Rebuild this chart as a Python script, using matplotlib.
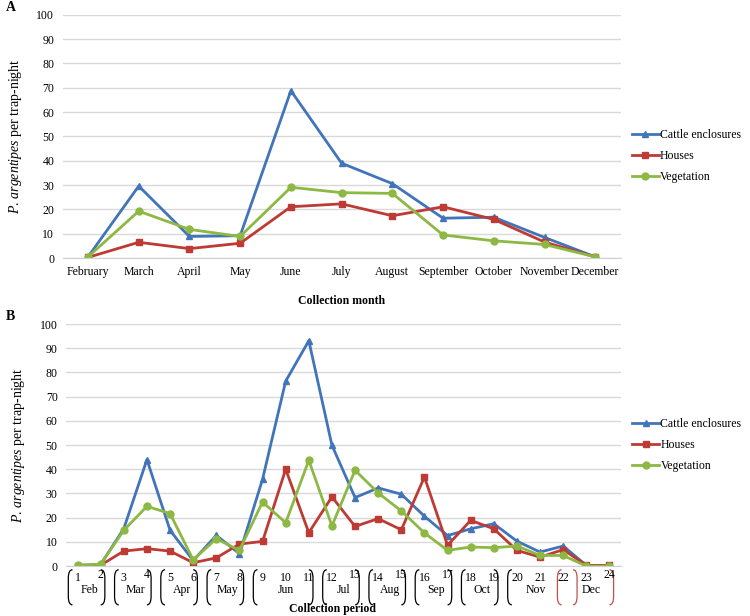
import numpy as np
import matplotlib.pyplot as plt
from matplotlib.path import Path
from matplotlib.patches import PathPatch
import matplotlib.transforms as mtransforms

plt.rcParams['font.family'] = ['Liberation Serif', 'DejaVu Serif']
plt.rcParams['mathtext.fontset'] = 'custom'
plt.rcParams['mathtext.rm'] = 'Liberation Serif'
plt.rcParams['mathtext.it'] = 'Liberation Serif:italic'

# panel A: monthly means
months = ['February', 'March', 'April', 'May', 'June', 'July', 'August',
          'September', 'October', 'November', 'December']
cattle_m = [0.5, 29.6, 8.9, 9.2, 68.8, 39.0, 30.6, 16.4, 16.8, 8.5, 0.5]
houses_m = [0.3, 6.5, 3.9, 6.1, 21.1, 22.3, 17.4, 21.1, 15.9, 6.6, 0.5]
veget_m = [0.5, 19.3, 11.8, 8.9, 29.1, 26.9, 26.6, 9.5, 7.1, 5.6, 0.5]

# panel B: per collection period
periods = list(range(1, 25))
cattle_p = [0.3, 0.7, 15.5, 44.0, 14.8, 2.3, 12.7, 5.1, 35.9, 76.4, 93.1, 49.9,
            28.3, 32.3, 29.7, 20.6, 12.6, 15.4, 17.5, 10.3, 5.8, 8.3, 0.3, 0.3]
houses_p = [0.2, 0.4, 6.2, 7.2, 6.2, 1.4, 3.4, 9.1, 10.2, 40.0, 13.8, 28.6,
            16.4, 19.6, 15.0, 36.8, 8.6, 18.9, 15.4, 6.5, 3.7, 6.8, 0.3, 0.3]
veget_p = [0.3, 0.8, 14.8, 24.7, 21.7, 2.6, 11.3, 6.5, 26.5, 17.9, 43.7, 16.6,
           39.6, 30.2, 22.8, 13.7, 6.5, 7.9, 7.6, 8.3, 4.4, 4.4, 0.0, 0.0]

# month groups of collection periods (label, first, last)
groups = [('Feb', 1, 2), ('Mar', 3, 4), ('Apr', 5, 6), ('May', 7, 8),
          ('Jun', 9, 11), ('Jul', 12, 13), ('Aug', 14, 15), ('Sep', 16, 17),
          ('Oct', 18, 19), ('Nov', 20, 22), ('Dec', 22, 24)]
raised = [2, 4, 13, 15, 17, 24]

series_names = ['Cattle enclosures', 'Houses', 'Vegetation']
colors = ['#4174B8', '#BE3A34', '#8DB843']
markers = ['^', 's', 'o']

fig = plt.figure(figsize=(7.5, 6.16), dpi=100)
axA = fig.add_axes([0.0835, 0.581, 0.744, 0.395])
axB = fig.add_axes([0.088, 0.081, 0.740, 0.393])


def style(ax, n):
    ax.set_ylim(0, 100)
    ax.set_yticks(range(0, 101, 10))
    ax.set_xlim(-0.5, n - 0.5)
    ax.grid(axis='y', color='#d9d9d9', linewidth=1)
    ax.set_axisbelow(True)
    for s in ['top', 'right', 'left']:
        ax.spines[s].set_visible(False)
    ax.spines['bottom'].set_color('#d0d0d0')
    ax.tick_params(length=0, labelsize=8.5, pad=6)
    ax.set_ylabel('$\\mathit{P.}\\,\\mathit{argentipes}$ per trap-night',
                  fontsize=10, labelpad=9)


# Panel A
xa = np.arange(len(months))
for vals, name, c, m in zip([cattle_m, houses_m, veget_m], series_names, colors, markers):
    axA.plot(xa, vals, color=c, marker=m, markersize=5, linewidth=2, label=name)
style(axA, len(months))
axA.set_xticks(xa)
axA.set_xticklabels(months, fontsize=8.5)
axA.tick_params(axis='x', pad=6)
axA.set_xlabel('Collection month', fontsize=8.5, fontweight='bold', labelpad=12)
axA.legend(loc='center left', bbox_to_anchor=(1.005, 0.42), frameon=False,
           fontsize=8.5, handlelength=2.3, handletextpad=0.1, labelspacing=0.75,
           borderaxespad=0.3)

# Panel B
xb = np.arange(len(periods))
for vals, name, c, m in zip([cattle_p, houses_p, veget_p], series_names, colors, markers):
    axB.plot(xb, vals, color=c, marker=m, markersize=5, linewidth=2, label=name)
style(axB, len(periods))
axB.set_xticks([])
axB.legend(loc='center left', bbox_to_anchor=(1.005, 0.5), frameon=False,
           fontsize=8.5, handlelength=2.3, handletextpad=0.1, labelspacing=0.75,
           borderaxespad=0.3)

trans = mtransforms.blended_transform_factory(axB.transData, axB.transAxes)
for p in periods:
    yy = -0.036 if p in raised else -0.048
    axB.text(p - 1, yy, str(p), transform=trans, ha='center', va='center',
             fontsize=8.5, clip_on=False)


def bracket(x0, w, color):
    top, bot, h = -0.015, -0.16, 0.035
    verts = [(x0 + w, top), (x0, top), (x0, top - h), (x0, bot + h),
             (x0, bot), (x0 + w, bot)]
    codes = [Path.MOVETO, Path.CURVE3, Path.CURVE3, Path.LINETO,
             Path.CURVE3, Path.CURVE3]
    axB.add_patch(PathPatch(Path(verts, codes), transform=trans, fill=False,
                            edgecolor=color, linewidth=0.9, clip_on=False))


for label, a, b in groups:
    if label == 'Nov':
        cx = 20.8
    elif label == 'Dec':
        cx = 23.2
    else:
        cx = (a + b) / 2
    axB.text(cx - 1, -0.097, label, transform=trans, ha='center', va='center',
             fontsize=8.5, clip_on=False)
    open_col = '#C0504D' if label == 'Dec' else 'black'
    close_col = '#C0504D' if label in ('Nov', 'Dec') else 'black'
    open_x = (a - 1.25) if label == 'Dec' else (a - 1.4)
    close_x = (b - 0.4) if label == 'Nov' else (b - 0.82)
    bracket(open_x, 0.18, open_col)
    bracket(close_x, -0.18, close_col)

axB.text(0.48, -0.178, 'Collection period', transform=axB.transAxes, ha='center',
         va='center', fontsize=8.5, fontweight='bold')

fig.text(0.008, 0.988, 'A', fontsize=10, fontweight='bold', va='center')
fig.text(0.008, 0.487, 'B', fontsize=10, fontweight='bold', va='center')

fig.savefig('out.png', dpi=100)
